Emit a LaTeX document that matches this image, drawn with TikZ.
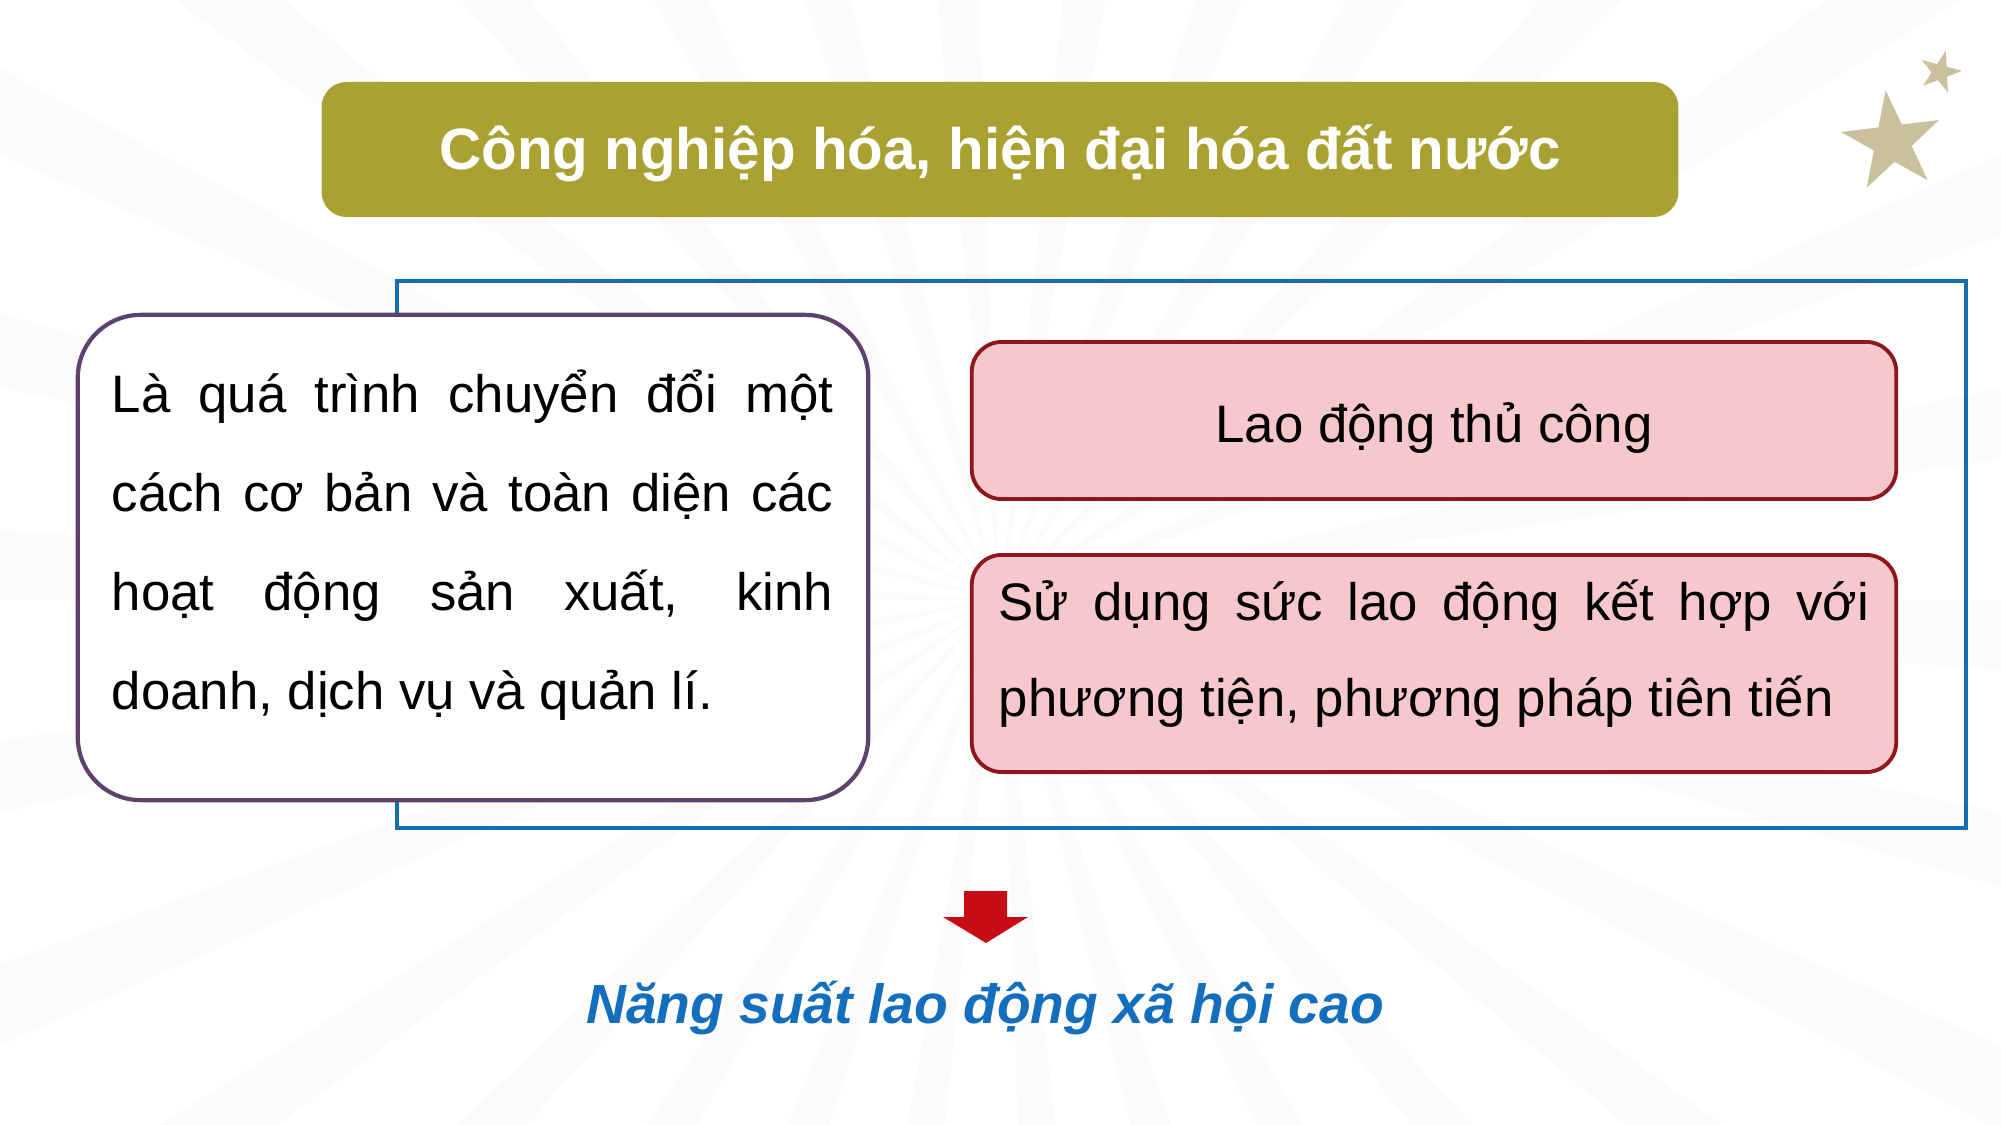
\documentclass[tikz,border=0pt]{standalone}
\usepackage{fontspec}
\setmainfont{Liberation Sans}
\usetikzlibrary{shapes.geometric}
\definecolor{raytint}{RGB}{253,251,249}
\definecolor{titleolive}{RGB}{170,161,51}
\definecolor{frameblue}{RGB}{22,110,178}
\definecolor{defpurple}{RGB}{95,65,112}
\definecolor{pinkfill}{RGB}{247,200,203}
\definecolor{pinkedge}{RGB}{140,24,30}
\definecolor{arrowred}{RGB}{200,12,20}
\definecolor{resultblue}{RGB}{20,110,190}
\definecolor{startan}{RGB}{203,192,158}
\hyphenpenalty=10000 \exhyphenpenalty=10000
\begin{document}
\begin{tikzpicture}[x=0.01cm, y=-0.01cm,
    bodyfont/.style={font=\fontsize{15}{28.2}\selectfont},
    titlebox/.style={fill=titleolive, rounded corners=0.25cm, text=white, minimum width=13.56cm, minimum height=1.35cm, font=\bfseries\fontsize{16.6}{20}\selectfont},
    defbox/.style={draw=defpurple, line width=1.2pt, fill=white, rounded corners=0.63cm, minimum width=7.9cm, minimum height=4.85cm},
    pinkbox/.style={draw=pinkedge, line width=1.1pt, fill=pinkfill, rounded corners=0.3cm, minimum width=9.24cm, bodyfont},
    starshape/.style={star, star points=5, star point ratio=2.6, fill=startan, inner sep=0pt}]
    \useasboundingbox (0,0) rectangle (2001,1125);
    \begin{scope}
      \clip (0,0) rectangle (2001,1125);
      \foreach \a in {0,12,...,348}
        \fill[raytint] (1000,600) -- +(\a:2500) -- +(\a+4:2500) -- cycle;
    \end{scope}
    \node[starshape, minimum size=1.04cm, shape border rotate=7] (bigstar) at (1892,142) {};
    \node[starshape, minimum size=0.44cm, shape border rotate=-15] (smallstar) at (1940,72) {};
    \node[titlebox, text height=0.52cm, text depth=0.12cm] (title) at (1000,149.5) {Công nghiệp hóa, hiện đại hóa đất nước};
    \draw[draw=frameblue, line width=1.2pt] (397,281) rectangle (1966,828);
    \node[defbox] (def) at (473,557.5) {};
    \node[bodyfont, text width=7.21cm, align=justify, inner sep=0pt] (deftext) at (472.5,545) {Là quá trình chuyển đổi một\linebreak cách cơ bản và toàn diện các\linebreak hoạt động sản xuất, kinh\linebreak doanh, dịch vụ và quản lí.};
    \node[pinkbox, minimum height=1.57cm, text height=0.55cm, text depth=0.12cm] (manual) at (1434,420.5) {Lao động thủ công};
    \node[pinkbox, minimum height=2.17cm] (modern) at (1434,663.5) {};
    \node[bodyfont, font=\fontsize{15}{27.3}\selectfont, text width=8.7cm, align=justify, inner sep=0pt] (moderntext) at (1434,654) {Sử dụng sức lao động kết hợp với\linebreak phương tiện, phương pháp tiên tiến};
    \fill[arrowred] (964,891) -- (1007,891) -- (1007,917) -- (1028,917) -- (986,943) -- (943,917) -- (964,917) -- cycle;
    \node[font=\bfseries\itshape\fontsize{15.7}{20}\selectfont, text=resultblue] (result) at (985,1008) {Năng suất lao động xã hội cao};
\end{tikzpicture}
\end{document}
